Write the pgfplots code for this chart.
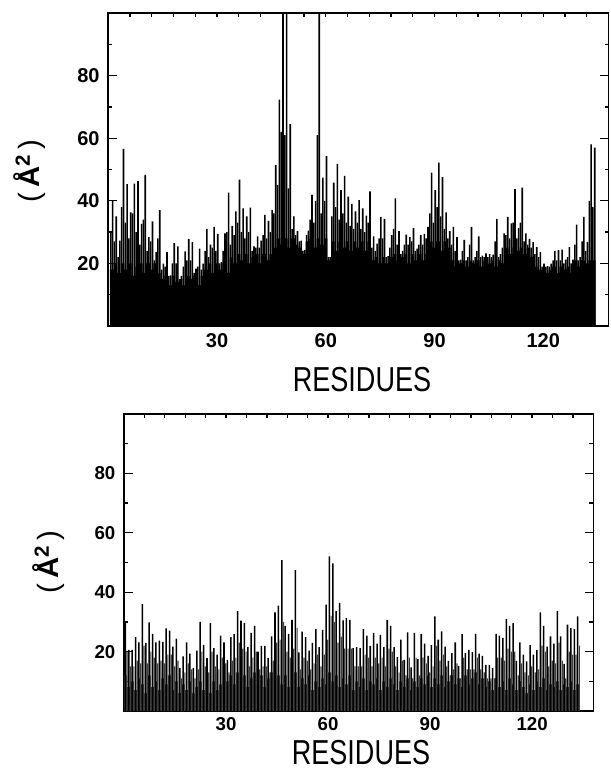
\documentclass[border=0pt]{standalone}
\usepackage{fontspec}
\setmainfont{Liberation Sans}
\newfontfamily\resfont[FakeStretch=0.78]{Liberation Sans}
\usepackage{pgfplots}
\usepackage{pgfplotstable}
\pgfplotsset{compat=1.18}

% per residue: p = highest atom, s = second line, b = solid mass below
\pgfplotstableread{
r p s b
1 40 30 18
2 35 27 20
3 27.3 22 17
4 56.6 38 20
5 45.3 33 18
6 36.3 28 20
7 45.5 36 16
8 46.3 30 19
9 32.6 26 20
10 48.3 34 17
11 28.4 24 20
12 33.4 27 18
13 23.6 21 20
14 37 28 17
15 19.9 18 15
16 23.6 19 16
17 16.2 16 13
18 26.5 20 16
19 25.4 20 14
20 16 15 15
21 23.8 19 13
22 27.8 21 16
23 26.8 21 15
24 18.3 17 16
25 24.7 19 13
26 19.9 18 16
27 31 24 18
28 26 22 20
29 31.7 25 17
30 29.4 24 20
31 20.4 20 18
32 29.6 24 20
33 42.6 30 17
34 32 26 22
35 36.6 29 20
36 46.8 33 23
37 37.6 30 21
38 35 28 23
39 37.8 30 20
40 25.4 24 22
41 28.6 25 23
42 27.3 25 20
43 35.5 29 23
44 33.6 28 21
45 37 30 23
46 51.4 36 25
47 72.3 45 28
48 110 62 26
49 110 61 28
50 64.5 44 25
51 35 31 28
52 30.3 29 26
53 27.3 27 25
54 24.3 24 23
55 30.5 29 27
56 41.9 34 28
57 40 33 25
58 110 61 28
59 47.4 36 26
60 54.3 40 28
61 22 22 21
62 45.8 35 27
63 51.8 38 24
64 43.4 34 27
65 48 36 25
66 41.3 33 27
67 39 32 24
68 36.6 31 27
69 40.2 33 25
70 37.6 31 27
71 35.3 30 24
72 43 33 27
73 28.6 25 21
74 26.3 24 22
75 34.9 28 20
76 34.2 28 22
77 22.3 22 20
78 29 25 22
79 40.8 31 23
80 30.3 26 21
81 24 23 22
82 29.2 26 23
83 28.4 26 20
84 31.3 27 23
85 24.7 24 21
86 29 26 23
87 29.4 26 21
88 31.7 28 23
89 49 36 27
90 43.4 33 25
91 52.2 38 27
92 47.6 35 24
93 36.3 31 27
94 30.3 28 25
95 31.7 26 21
96 28.4 24 19
97 21.2 21 20
98 27.5 24 21
99 22 21 19
100 31.7 26 21
101 22 21 20
102 28.6 24 21
103 22.5 22 19
104 23.2 22 21
105 23 22 20
106 22.8 22 21
107 34.2 27 19
108 23 22 21
109 29.6 25 20
110 34.9 29 25
111 32.8 28 23
112 43.7 33 25
113 31.3 28 24
114 44.2 33 25
115 29.6 27 23
116 27.8 26 25
117 26.8 25 22
118 25.2 23 19
119 23.6 22 18
120 19.9 19 18
121 19.1 19 17
122 19.9 19 18
123 24 21 19
124 24.2 21 17
125 24.4 21 19
126 21.2 20 18
127 25.2 22 19
128 21.2 20 17
129 32.4 26 21
130 22 21 19
131 34.9 27 21
132 26.8 24 20
133 58 40 21
134 57 38 21
}\topdata

\pgfplotstableread{
r p s b
0 30.2 20 12
1 20.6 15 8
2 20.6 15 10
3 24.9 17 7
4 23.1 16 11
5 36 22 9
6 22.9 16 6
7 29.8 20 12
8 26 18 8
9 23.1 16 10
10 23.7 17 7
11 23.3 16 11
12 27.8 19 9
13 27.1 19 12
14 21.7 15 7
15 24.4 17 10
16 14.4 11 6
17 18.4 13 9
18 23.1 16 7
19 19.3 14 10
20 14.4 11 6
21 20.3 14 8
22 30 20 10
23 22.3 15 7
24 17.8 13 9
25 29.6 20 6
26 21.2 15 10
27 19 14 7
28 25.4 18 9
29 23.1 16 8
30 17.2 13 10
31 24.9 17 12
32 25.9 18 9
33 33.6 23 13
34 30.4 21 10
35 29.6 20 12
36 21.5 15 8
37 26.3 18 11
38 28.7 20 13
39 20 14 9
40 21.9 15 12
41 21.9 15 8
42 17.8 13 11
43 25.1 17 13
44 33.2 23 10
45 35.5 24 12
46 50.8 30 9
47 28.7 20 12
48 26 18 8
49 30.7 21 11
50 47.4 28 13
51 19.7 14 8
52 26.7 18 11
53 24.9 17 9
54 20.3 14 12
55 22.9 16 7
56 27.6 19 10
57 21.5 15 8
58 27.3 19 11
59 35.8 24 9
60 52.1 32 13
61 49.7 30 10
62 33.6 23 12
63 36.4 25 8
64 30.5 21 11
65 31.3 21 9
66 30.7 21 12
67 21.2 15 7
68 21.5 15 10
69 21.2 15 8
70 27.6 19 11
71 25.4 18 7
72 21.9 15 10
73 26.3 18 9
74 22.7 16 11
75 25.6 18 7
76 21.5 15 10
77 30.7 21 8
78 28.7 20 11
79 21.5 15 9
80 18.1 13 7
81 24 17 10
82 17.2 12 8
83 26.5 18 11
84 14.7 11 7
85 26.3 18 10
86 17.5 12 8
87 25.9 18 11
88 22.7 16 9
89 18.6 13 12
90 22.2 15 8
91 31.9 22 11
92 24 17 9
93 26.8 19 12
94 21.7 15 8
95 16.9 12 10
96 19.5 14 12
97 23.1 16 9
98 15.2 11 11
99 25.9 18 8
100 19.5 14 12
101 20.6 14 9
102 19.8 14 11
103 26 18 13
104 19.3 14 9
105 18.6 13 11
106 15.5 11 8
107 15.5 11 10
108 14.4 11 7
109 26 18 11
110 25.4 18 8
111 24.6 17 10
112 31 21 7
113 28.7 20 11
114 29.6 20 9
115 16.9 12 7
116 23.1 16 10
117 19 13 8
118 16.7 12 6
119 22.3 15 9
120 19 13 7
121 20.6 14 10
122 33.2 22 8
123 28.7 20 11
124 21.7 15 7
125 25.1 17 9
126 22.7 16 8
127 33.6 23 10
128 25.1 17 7
129 15.9 11 9
130 29.1 20 8
131 27.9 19 10
132 27.6 19 7
133 31.9 22 9
}\botdata

\pgfplotsset{
  bfac/.style={
    scale only axis,
    xmin=0, xmax=138, ymin=0, ymax=100,
    axis line style={line width=1.2pt},
    xtick={30,60,90,120}, minor xtick={0,6,...,138},
    ytick={20,40,60,80}, minor ytick={10,30,50,70,90},
    tick align=inside, xtick pos=both, ytick pos=both,
    major tick length=6.5pt, minor tick length=3pt,
    every tick/.style={line width=1pt, black},
    major x tick style={draw=none},
    /pgf/number format/assume math mode=true,
  },
  bars/.style={ybar, bar shift=0pt, draw=none, fill=black},
}

\begin{document}
\begin{tikzpicture}
\path[use as bounding box] (0,0) rectangle (457.5pt,577.5pt);

\begin{axis}[bfac,
  at={(81.2pt,333pt)}, anchor=south west,
  width=375.2pt, height=234.75pt,
  ticklabel style={font=\fontsize{15}{15}\selectfont\bfseries},
  xticklabel style={yshift=-2pt},
  yticklabel style={xshift=-3pt},
]
\addplot[bars, bar width=1] table[x expr=\thisrow{r}-0.05, y=b] {\topdata};
\addplot[bars, bar width=0.42] table[x expr=\thisrow{r}-0.3, y=s] {\topdata};
\addplot[bars, bar width=0.45] table[x expr=\thisrow{r}+0.2, y=p] {\topdata};
\end{axis}

\begin{axis}[bfac,
  at={(93pt,44.25pt)}, anchor=south west,
  width=352pt, height=222.75pt,
  ticklabel style={font=\fontsize{14}{14}\selectfont\bfseries},
  xticklabel style={yshift=-1pt},
  yticklabel style={xshift=-3pt},
]
\addplot[bars, fill=black!80, bar width=0.95] table[x expr=\thisrow{r}+0.4, y=b] {\botdata};
\addplot[bars, fill=black!75, bar width=0.35] table[x expr=\thisrow{r}+0.9, y=s] {\botdata};
\addplot[bars, bar width=0.45] table[x expr=\thisrow{r}+0.4, y=p] {\botdata};
\end{axis}

\node[anchor=base, font=\resfont\fontsize{26}{26}\selectfont] at (271.5pt,283.5pt) {RESIDUES};
\node[anchor=base, font=\resfont\fontsize{26}{26}\selectfont] at (270.75pt,4pt) {RESIDUES};
\node[rotate=90, font=\fontsize{22}{22}\selectfont] at (22.5pt,449.25pt) {(\,\textbf{Å}\textsuperscript{\bfseries 2}\,)};
\node[rotate=90, font=\fontsize{22}{22}\selectfont] at (36.75pt,156pt) {(\,\textbf{Å}\textsuperscript{\bfseries 2}\,)};
\end{tikzpicture}
\end{document}
